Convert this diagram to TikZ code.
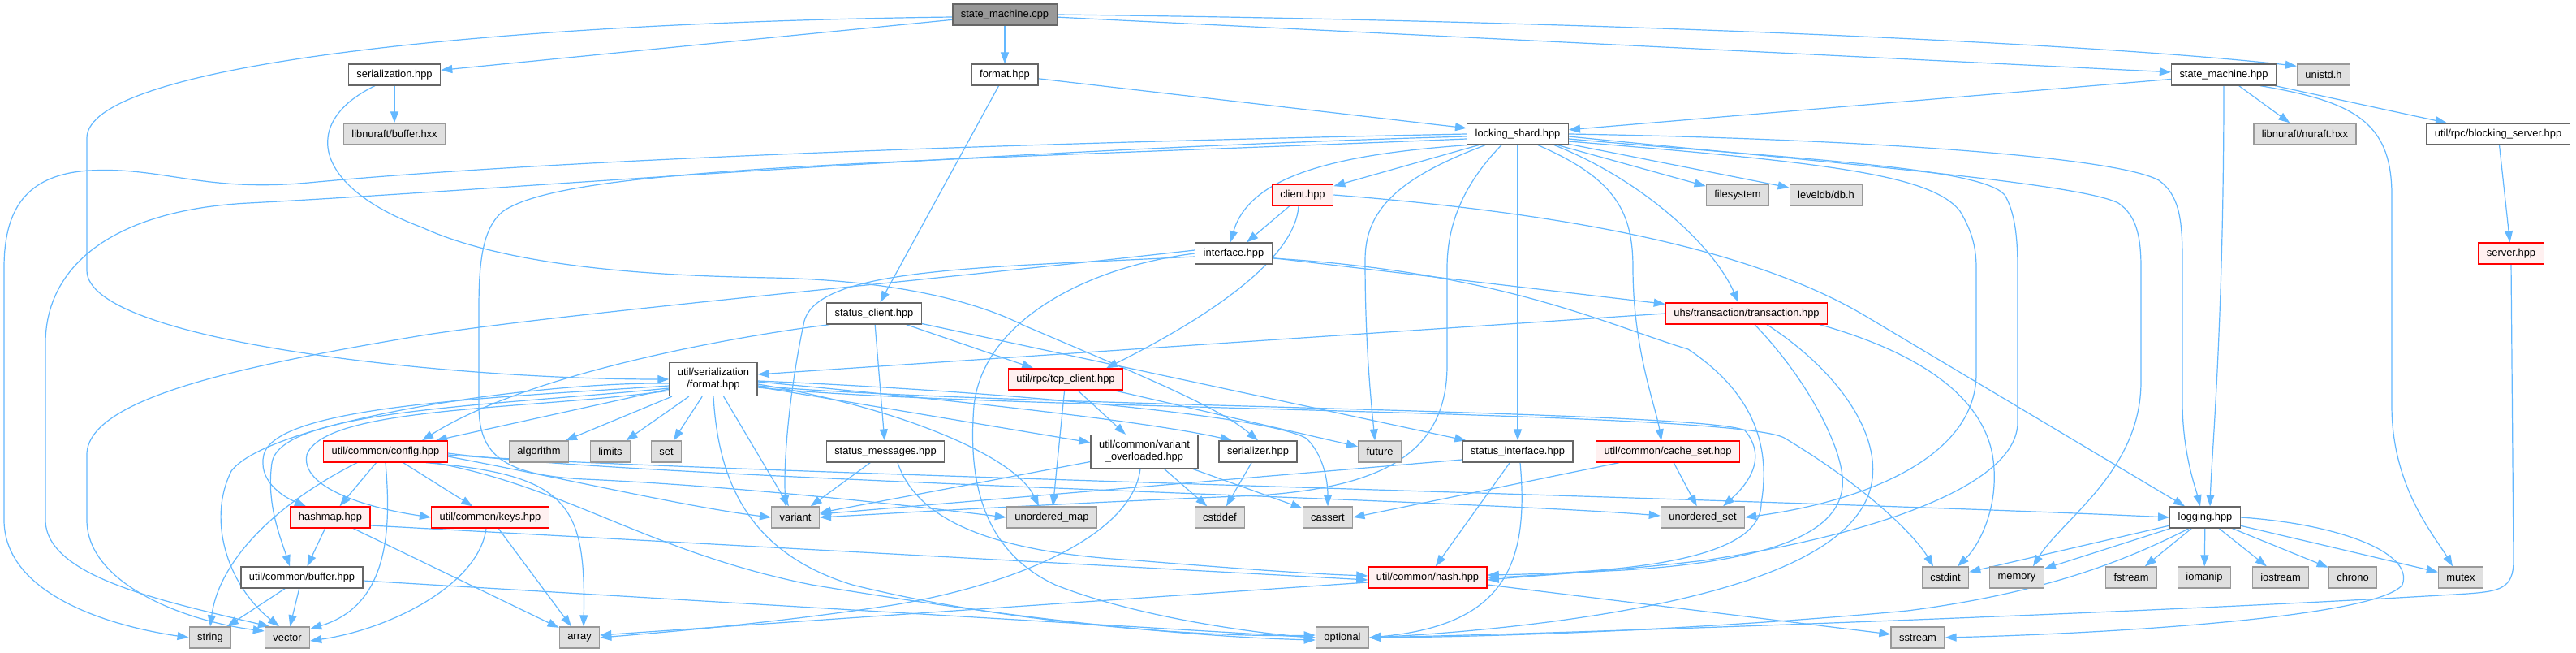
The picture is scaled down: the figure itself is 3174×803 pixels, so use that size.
\documentclass[tikz,border=0pt]{standalone}
\usepackage{fontspec}
\setmainfont{Liberation Sans}
\usetikzlibrary{arrows.meta}
\definecolor{edgec}{HTML}{63B8FF}
\definecolor{nbord}{HTML}{666666}
\definecolor{sysfill}{HTML}{E0E0E0}
\definecolor{sysbord}{HTML}{999999}
\definecolor{redfill}{HTML}{FFF0F0}
\definecolor{redbord}{HTML}{FF0000}
\definecolor{rootfill}{HTML}{999999}
\pgfdeclarelayer{bgfill}
\pgfdeclarelayer{edges}
\pgfsetlayers{bgfill,edges,main}
\begin{document}
\begin{tikzpicture}[x=1pt,y=1pt,
  box/.style={draw=nbord, fill=white, line width=1.3pt, rectangle, minimum height=26pt, inner xsep=10pt, inner ysep=2pt, font=\fontsize{12.9}{15}\selectfont, text=black},
  sysbox/.style={box, draw=sysbord, fill=sysfill},
  redbox/.style={box, draw=redbord, fill=redfill},
  rootbox/.style={box, fill=rootfill},
  twoline/.style={align=center, minimum height=41pt},
  dep/.style={draw=edgec, line width=1.2pt, -{Triangle[length=14pt,width=10pt]}},
]
\useasboundingbox (0,0) rectangle (3174,-803);
\begin{pgfonlayer}{bgfill}
\fill[white] (0,0) rectangle (3174,-803);
\end{pgfonlayer}

\node[rootbox] (smcpp) at (1238,-18) {state\_machine.cpp};
\node[box] (serialization) at (486,-92) {serialization.hpp};
\node[box] (format) at (1238,-92) {format.hpp};
\node[box] (smhpp) at (2740,-92) {state\_machine.hpp};
\node[sysbox] (unistd) at (2863,-92) {unistd.h};
\node[sysbox] (nubuf) at (486,-165) {libnuraft/buffer.hxx};
\node[box] (locking) at (1870,-165) {locking\_shard.hpp};
\node[sysbox] (nuraft) at (2840,-165) {libnuraft/nuraft.hxx};
\node[box] (blocking) at (3078,-165) {util/rpc/blocking\_server.hpp};
\node[redbox] (client) at (1605,-240) {client.hpp};
\node[sysbox] (filesystem) at (2141,-240) {filesystem};
\node[sysbox] (leveldb) at (2250,-240) {leveldb/db.h};
\node[box] (interface) at (1520,-312) {interface.hpp};
\node[redbox] (server) at (3094,-312) {server.hpp};
\node[box] (statusclient) at (1077,-386) {status\_client.hpp};
\node[redbox] (transaction) at (2152,-386) {uhs/transaction/transaction.hpp};
\node[box,twoline] (serformat) at (879,-467) {util/serialization\\/format.hpp};
\node[redbox] (tcpclient) at (1313,-467) {util/rpc/tcp\_client.hpp};
\node[redbox] (config) at (475,-556) {util/common/config.hpp};
\node[sysbox] (algorithm) at (664,-556) {algorithm};
\node[sysbox] (limits) at (752,-556) {limits};
\node[sysbox] (set) at (821,-556) {set};
\node[box] (statusmsg) at (1091,-556) {status\_messages.hpp};
\node[box,twoline] (variantov) at (1410,-556) {util/common/variant\\\_overloaded.hpp};
\node[box] (serializer) at (1550,-556) {serializer.hpp};
\node[sysbox] (future) at (1700,-556) {future};
\node[box] (statusif) at (1870,-556) {status\_interface.hpp};
\node[redbox] (cacheset) at (2055,-556) {util/common/cache\_set.hpp};
\node[redbox] (hashmap) at (407,-637) {hashmap.hpp};
\node[redbox] (keys) at (604,-637) {util/common/keys.hpp};
\node[sysbox] (variant) at (980,-637) {variant};
\node[sysbox] (umap) at (1296,-637) {unordered\_map};
\node[sysbox] (cstddef) at (1503,-637) {cstddef};
\node[sysbox] (cassert) at (1636,-637) {cassert};
\node[sysbox] (uset) at (2098,-637) {unordered\_set};
\node[box] (logging) at (2717,-637) {logging.hpp};
\node[box] (buffer) at (372,-711) {util/common/buffer.hpp};
\node[redbox] (hash) at (1759,-711) {util/common/hash.hpp};
\node[sysbox] (cstdint) at (2397,-711) {cstdint};
\node[sysbox] (memory) at (2485,-711) {memory};
\node[sysbox] (fstream) at (2626,-711) {fstream};
\node[sysbox] (iomanip) at (2716,-711) {iomanip};
\node[sysbox] (iostream) at (2810,-711) {iostream};
\node[sysbox] (chrono) at (2899,-711) {chrono};
\node[sysbox] (mutex) at (3032,-711) {mutex};
\node[sysbox] (string) at (259,-785) {string};
\node[sysbox] (vector) at (354,-785) {vector};
\node[sysbox] (array) at (714,-785) {array};
\node[sysbox] (optional) at (1654,-785) {optional};
\node[sysbox] (sstream) at (2363,-785) {sstream};

\begin{pgfonlayer}{edges}
% state_machine.cpp
\draw[dep] (smcpp) -- (format);
\draw[dep] (smcpp) -- (serialization);
\draw[dep] (smcpp) -- (smhpp);
\draw[dep] (smcpp.east) .. controls (2000,-26) and (2600,-55) .. ([yshift=-3pt]unistd.north west);
\draw[dep] ([yshift=-3pt]smcpp.west) .. controls (600,-28) and (107,-80) .. (107,-170) -- (107,-333) .. controls (107,-420) and (550,-467) .. (serformat.west);
% serialization.hpp
\draw[dep] (serialization) -- (nubuf);
\draw[dep] ([xshift=-24pt]serialization.south) .. controls (370,-150) and (385,-230) .. (520,-280) .. controls (640,-335) and (850,-340) .. (950,-342) .. controls (1100,-345) and (1200,-370) .. (1260,-400) .. controls (1400,-460) and (1500,-500) .. (serializer.north);
% format.hpp
\draw[dep] (format) -- (locking);
\draw[dep] (format) -- (statusclient);
% state_machine.hpp
\draw[dep] (smhpp) -- (locking);
\draw[dep] (smhpp) -- (nuraft);
\draw[dep] (smhpp) -- (blocking);
\draw[dep] (smhpp.south) .. controls (2740,-400) and (2725,-560) .. ([xshift=6pt]logging.north);
\draw[dep] ([xshift=45pt]smhpp.south) .. controls (2900,-125) and (2947,-150) .. (2947,-240) -- (2947,-500) .. controls (2947,-600) and (3000,-660) .. ([xshift=-10pt]mutex.north);
% blocking_server / server
\draw[dep] (blocking) -- (server);
\draw[dep] (server.south) -- (3097,-690) .. controls (3097,-725) and (3080,-728) .. (3040,-731) .. controls (2700,-752) and (2000,-778) .. (optional.east);
% logging.hpp
\foreach \t in {cstdint,memory,fstream,iomanip,iostream,chrono,mutex} \draw[dep] (logging) -- (\t);
\draw[dep] (logging.east) .. controls (2880,-645) and (2975,-680) .. (2960,-720) .. controls (2930,-760) and (2600,-780) .. (sstream.east);
\draw[dep] ([xshift=-20pt]logging.south) .. controls (2620,-690) and (2520,-730) .. (2350,-752) .. controls (2100,-775) and (1850,-784) .. (optional.east);
% locking_shard.hpp
\draw[dep] (locking) -- (client);
\draw[dep] (locking.south west) .. controls (1650,-190) and (1540,-215) .. ([xshift=-4pt]interface.north);
\draw[dep] (locking) -- (filesystem);
\draw[dep] (locking) -- (leveldb);
\draw[dep] ([xshift=45pt]locking.south) .. controls (2020,-220) and (2110,-300) .. ([xshift=-10pt]transaction.north);
\draw[dep] ([xshift=-40pt]locking.south) .. controls (1720,-220) and (1682,-260) .. (1682,-320) .. controls (1682,-430) and (1690,-500) .. ([xshift=-6pt]future.north);
\draw[dep] (locking) -- (statusif);
\draw[dep] ([xshift=25pt]locking.south) .. controls (1990,-220) and (2012,-260) .. (2012,-330) .. controls (2012,-430) and (2040,-500) .. ([xshift=-8pt]cacheset.north);
\draw[dep] ([xshift=-20pt]locking.south) .. controls (1800,-230) and (1783,-280) .. (1783,-330) -- (1783,-450) .. controls (1783,-560) and (1700,-600) .. (1550,-610) .. controls (1300,-620) and (1100,-632) .. (variant.east);
\draw[dep] (locking.east) .. controls (2250,-170) and (2600,-190) .. (2660,-222) .. controls (2685,-240) and (2689,-270) .. (2689,-320) -- (2689,-500) .. controls (2690,-560) and (2705,-600) .. ([xshift=-6pt]logging.north);
\draw[dep] ([yshift=-3pt]locking.east) .. controls (2250,-200) and (2560,-225) .. (2610,-250) .. controls (2632,-265) and (2638,-290) .. (2638,-330) -- (2638,-470) .. controls (2638,-580) and (2540,-640) .. ([xshift=20pt]memory.north);
\draw[dep] ([yshift=-6pt]locking.east) .. controls (2200,-195) and (2440,-205) .. (2470,-240) .. controls (2482,-260) and (2486,-290) .. (2486,-330) -- (2486,-520) .. controls (2486,-600) and (2300,-660) .. (2100,-690) .. controls (2000,-702) and (1900,-708) .. ([yshift=-3pt]hash.east);
\draw[dep] ([yshift=-9pt]locking.east) .. controls (2250,-200) and (2380,-215) .. (2415,-260) .. controls (2430,-285) and (2435,-305) .. (2435,-330) -- (2435,-460) .. controls (2435,-570) and (2280,-620) .. (uset.east);
\draw[dep] (locking.west) .. controls (1300,-175) and (700,-195) .. (380,-225) .. controls (250,-237) and (200,-205) .. (110,-210) .. controls (30,-215) and (5,-260) .. (5,-330) -- (5,-640) .. controls (5,-730) and (130,-770) .. (string.west);
\draw[dep] ([yshift=-3pt]locking.west) .. controls (1200,-185) and (600,-235) .. (306,-250) .. controls (150,-258) and (58,-320) .. (56,-420) -- (56,-640) .. controls (56,-710) and (200,-740) .. ([xshift=-22pt]vector.north);
\draw[dep] ([yshift=-6pt]locking.west) .. controls (1100,-200) and (700,-205) .. (620,-260) .. controls (595,-280) and (590,-320) .. (590,-380) -- (590,-500) .. controls (590,-560) and (620,-585) .. (720,-590) .. controls (900,-598) and (1100,-620) .. (umap.west);
% client.hpp
\draw[dep] (client) -- (interface);
\draw[dep] ([xshift=-5pt]client.south) .. controls (1595,-330) and (1450,-410) .. ([xshift=50pt]tcpclient.north);
\draw[dep] (client.east) .. controls (1900,-260) and (2150,-300) .. (2300,-390) -- ([xshift=-25pt]logging.north);
% interface.hpp
\draw[dep] (interface) -- (transaction);
\draw[dep] ([yshift=-6pt]interface.east) .. controls (1850,-335) and (1980,-400) .. (2080,-430) .. controls (2170,-490) and (2180,-560) .. (2170,-620) .. controls (2170,-690) and (2000,-705) .. ([yshift=3pt]hash.east);
\draw[dep] (interface.west) .. controls (1330,-330) and (1210,-400) .. (1200,-500) .. controls (1192,-600) and (1215,-680) .. (1300,-720) .. controls (1400,-760) and (1550,-780) .. (optional.west);
\draw[dep] ([yshift=4pt]interface.west) .. controls (1100,-350) and (700,-385) .. (520,-413) .. controls (300,-450) and (107,-490) .. (107,-560) -- (107,-640) .. controls (107,-720) and (230,-765) .. ([yshift=8pt]vector.west);
\draw[dep] ([yshift=-4pt]interface.west) .. controls (1200,-330) and (1000,-330) .. (990,-400) .. controls (975,-470) and (965,-560) .. ([xshift=-12pt]variant.north);
% status_client.hpp
\draw[dep] (statusclient) -- (tcpclient);
\draw[dep] (statusclient) -- (statusmsg);
\draw[dep] (statusclient) -- (statusif);
\draw[dep] ([xshift=-55pt]statusclient.south) .. controls (900,-415) and (650,-460) .. ([xshift=45pt]config.north);
% transaction.hpp
\draw[dep] (transaction.west) -- ([yshift=6pt]serformat.east);
\draw[dep] ([xshift=10pt]transaction.south) .. controls (2230,-470) and (2275,-560) .. (2270,-600) .. controls (2265,-650) and (2200,-690) .. (2000,-702) .. controls (1920,-706) and (1870,-710) .. (hash.east);
\draw[dep] ([xshift=25pt]transaction.south) .. controls (2270,-460) and (2320,-540) .. (2305,-600) .. controls (2285,-680) and (2150,-730) .. (1950,-760) .. controls (1850,-775) and (1750,-782) .. (optional.east);
\draw[dep] ([xshift=90pt]transaction.south) .. controls (2350,-430) and (2440,-480) .. (2455,-560) .. controls (2465,-620) and (2440,-670) .. ([xshift=15pt]cstdint.north);
% util/serialization/format.hpp
\draw[dep] (serformat) -- (config);
\draw[dep] (serformat) -- (algorithm);
\draw[dep] (serformat) -- (limits);
\draw[dep] (serformat) -- (set);
\draw[dep] (serformat) -- (variant);
\draw[dep] (serformat) -- (variantov);
\draw[dep] ([yshift=-3pt]serformat.east) .. controls (1200,-495) and (1420,-520) .. ([xshift=-32pt]serializer.north);
\draw[dep] ([yshift=-6pt]serformat.east) .. controls (1100,-500) and (1250,-560) .. ([xshift=-16pt]umap.north);
\draw[dep] ([yshift=-2pt]serformat.east) .. controls (1200,-480) and (1560,-510) .. (1610,-540) .. controls (1630,-560) and (1636,-590) .. (cassert.north);
\draw[dep] ([yshift=-8pt]serformat.east) .. controls (1200,-500) and (2100,-505) .. (2150,-530) .. controls (2175,-560) and (2160,-590) .. ([xshift=25pt]uset.north);
\draw[dep] ([yshift=-10pt]serformat.east) .. controls (1200,-505) and (2150,-505) .. (2200,-540) .. controls (2300,-600) and (2360,-660) .. ([xshift=-15pt]cstdint.north);
\draw[dep] (serformat.south) .. controls (885,-590) and (920,-680) .. (1050,-720) .. controls (1250,-770) and (1500,-785) .. ([yshift=3pt]optional.west);
\draw[dep] ([yshift=-8pt]serformat.west) .. controls (600,-490) and (340,-500) .. (325,-560) .. controls (318,-590) and (345,-610) .. ([xshift=-30pt]hashmap.north);
\draw[dep] ([yshift=-11pt]serformat.west) .. controls (600,-500) and (345,-505) .. (335,-570) .. controls (328,-620) and (345,-660) .. ([xshift=-15pt]buffer.north);
\draw[dep] ([yshift=-14pt]serformat.west) .. controls (650,-505) and (400,-500) .. (378,-560) .. controls (370,-600) and (450,-625) .. (keys.west);
\draw[dep] ([yshift=-5pt]serformat.west) .. controls (650,-470) and (330,-520) .. (285,-580) .. controls (255,-640) and (280,-720) .. ([xshift=-10pt]vector.north);
% tcp_client.hpp
\draw[dep] (tcpclient) -- (variantov);
\draw[dep] (tcpclient) -- (umap);
\draw[dep] (tcpclient) -- (future);
% status_messages.hpp
\draw[dep] (statusmsg) -- (variant);
\draw[dep] ([xshift=15pt]statusmsg.south) .. controls (1130,-640) and (1220,-680) .. (1400,-690) .. controls (1500,-698) and (1600,-706) .. ([yshift=2pt]hash.west);
% variant_overloaded.hpp
\draw[dep] (variantov) -- (variant);
\draw[dep] (variantov) -- (cstddef);
\draw[dep] (variantov) -- (cassert);
\draw[dep] ([xshift=-5pt]variantov.south) .. controls (1395,-660) and (1250,-720) .. (1100,-745) .. controls (950,-768) and (800,-780) .. (array.east);
% serializer.hpp
\draw[dep] (serializer) -- (cstddef);
% status_interface.hpp
\draw[dep] ([yshift=-10pt]statusif.west) -- ([yshift=4pt]variant.east);
\draw[dep] (statusif) -- (hash);
\draw[dep] ([xshift=3pt]statusif.south) .. controls (1885,-700) and (1850,-770) .. (optional.east);
% cache_set.hpp
\draw[dep] (cacheset) -- (uset);
\draw[dep] ([xshift=-60pt]cacheset.south) -- (cassert.east);
% config.hpp
\draw[dep] (config) -- (hashmap);
\draw[dep] (config) -- (keys);
\draw[dep] ([xshift=-35pt]config.south) .. controls (340,-620) and (270,-690) .. (string.north);
\draw[dep] (config.south) .. controls (482,-650) and (480,-745) .. ([yshift=-3pt]vector.north east);
\draw[dep] ([xshift=50pt]config.south) .. controls (700,-585) and (722,-620) .. ([xshift=5pt]array.north);
\draw[dep] ([yshift=-6pt]config.east) .. controls (700,-590) and (850,-625) .. (variant.west);
\draw[dep] ([yshift=-2pt]config.east) .. controls (800,-590) and (1800,-615) .. ([yshift=2pt]uset.west);
\draw[dep] ([yshift=-4pt]config.east) .. controls (800,-580) and (2200,-615) .. (logging.west);
\draw[dep] ([xshift=60pt]config.south) .. controls (700,-600) and (800,-680) .. (1000,-720) .. controls (1300,-770) and (1500,-785) .. ([yshift=-3pt]optional.west);
% hashmap.hpp
\draw[dep] (hashmap) -- (buffer);
\draw[dep] ([yshift=-10pt]hashmap.east) -- ([yshift=-3pt]hash.west);
\draw[dep] (hashmap) -- (array);
% keys.hpp
\draw[dep] (keys) -- (array);
\draw[dep] ([xshift=-5pt]keys.south) .. controls (590,-720) and (480,-775) .. ([yshift=-4pt]vector.east);
% buffer.hpp
\draw[dep] (buffer) -- (string);
\draw[dep] (buffer) -- (vector);
\draw[dep] ([yshift=-4pt]buffer.east) -- (optional.west);
% hash.hpp
\draw[dep] ([yshift=-6pt]hash.west) -- ([yshift=3pt]array.east);
\draw[dep] (hash) -- (sstream);
\end{pgfonlayer}
\end{tikzpicture}
\end{document}
